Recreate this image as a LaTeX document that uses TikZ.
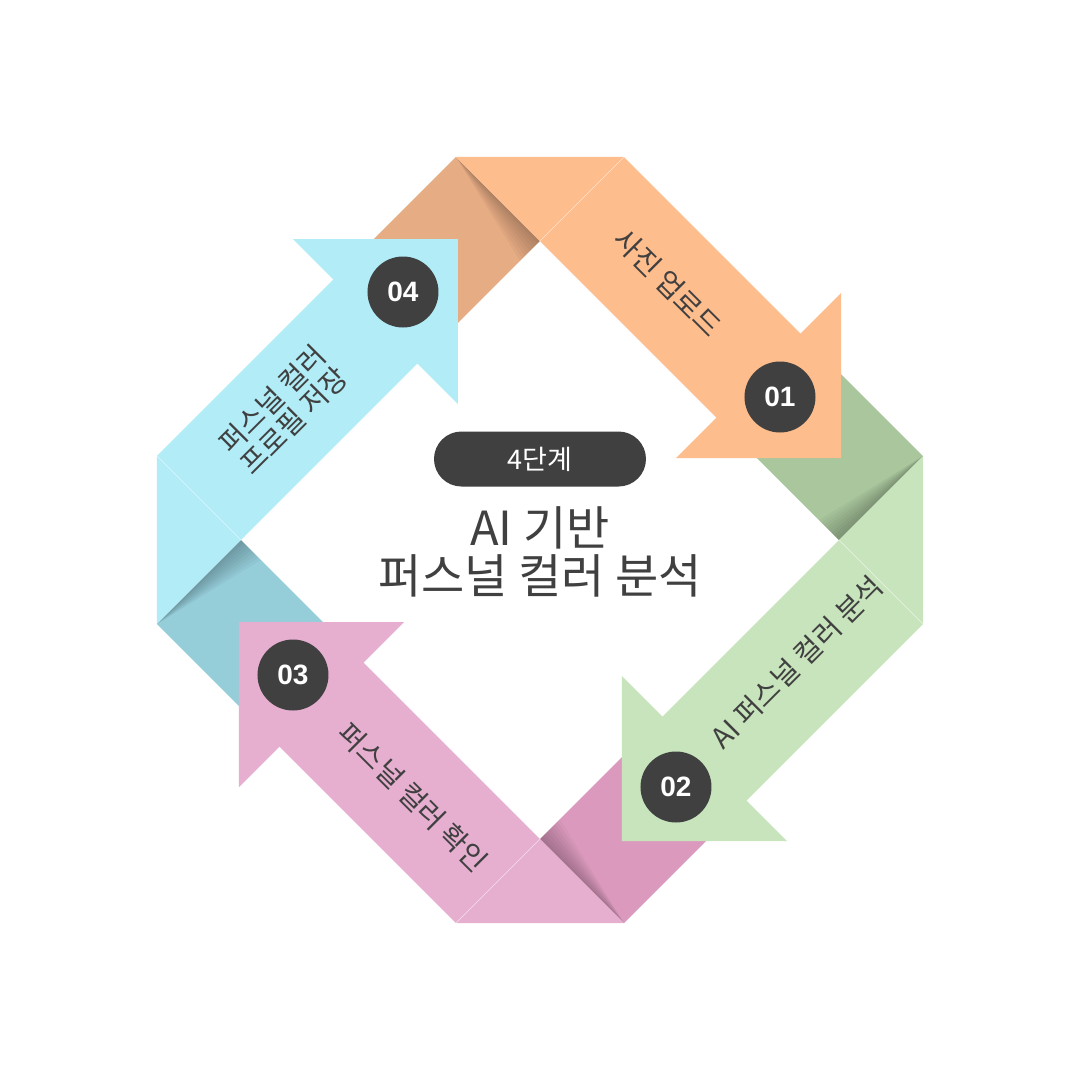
\documentclass[tikz,border=0pt]{standalone}
\usepackage{fontspec}
\newfontfamily\krfont{Noto Sans CJK KR}
\newfontfamily\numfont{Liberation Sans}
\usetikzlibrary{calc}
\definecolor{ink}{HTML}{404040}
\definecolor{orangeL}{HTML}{FEBD8C}
\definecolor{orangeD}{HTML}{E6AC84}
\definecolor{greenL}{HTML}{C8E4BC}
\definecolor{greenD}{HTML}{A9C69D}
\definecolor{pinkL}{HTML}{E6AFD0}
\definecolor{pinkD}{HTML}{DB9ABD}
\definecolor{blueL}{HTML}{B1ECF7}
\definecolor{blueD}{HTML}{95CDD9}
\tikzset{
  numdisc/.style={circle,fill=ink,minimum size=71pt,inner sep=0pt,text=white,
    font=\numfont\bfseries\fontsize{28}{28}\selectfont},
  steplabel/.style={text=ink,align=center,inner sep=0pt,
    font=\krfont\fontsize{28.5}{30.5}\selectfont},
  crease/.style={white,line width=0.6pt,opacity=0.6},
  pill/.style={fill=ink,rounded corners=27.5pt,minimum width=212pt,minimum height=55pt,
    text=white,font=\krfont\fontsize{27}{27}\selectfont},
  headline/.style={text=ink,align=center,inner sep=0pt,
    font=\krfont\fontsize{47}{48}\selectfont}
}

\begin{document}
\begin{tikzpicture}[x=1pt,y=1pt]
\useasboundingbox[fill=white] (-540,-540) rectangle (540,540);

% back side of each fold
\foreach \ang/\cb in {0/orangeD,-90/greenD,-180/pinkD,90/blueD}{
  \begin{scope}[rotate=\ang]
    \fill[\cb] (-84,383) -- (0,299) -- (-99.5,199.5) -- (-183.5,283.5) -- cycle;
    \foreach \k in {1,...,8}
      \fill[black,opacity=0.03] (-84,383) -- (0,299) -- ++(-2.5*\k,-2.5*\k) -- cycle;
  \end{scope}
}

% front side with arrow head
\foreach \ang/\cf in {0/orangeL,-90/greenL,-180/pinkL,90/blueL}{
  \begin{scope}[rotate=\ang]
    \fill[\cf] (-84,383) -- (84,383) -- (260.5,206.5) -- (301,247) -- (301,82)
      -- (136,82) -- (176.5,122.5) -- cycle;
    \draw[crease] (84,383) -- (0,299);
  \end{scope}
}

\node[numdisc] (n1) at (240,143) {01};
\node[numdisc] (n2) at (136,-247) {02};
\node[numdisc] (n3) at (-247,-135) {03};
\node[numdisc] (n4) at (-137,248) {04};

\node[steplabel,rotate=-45] (s1) at (128,257) {사진 업로드};
\node[steplabel,rotate=45] (s2) at (257,-122) {AI 퍼스널 컬러 분석};
\node[steplabel,rotate=-45] (s3) at (-127,-257) {퍼스널 컬러 확인};
\node[steplabel,rotate=45] (s4) at (-257,130) {퍼스널 컬러\\프로필 저장};

\node[pill] (stage) at (0,81) {4단계};
\node[headline] (title) at (0,-12) {AI 기반\\퍼스널 컬러 분석};
\end{tikzpicture}
\end{document}
